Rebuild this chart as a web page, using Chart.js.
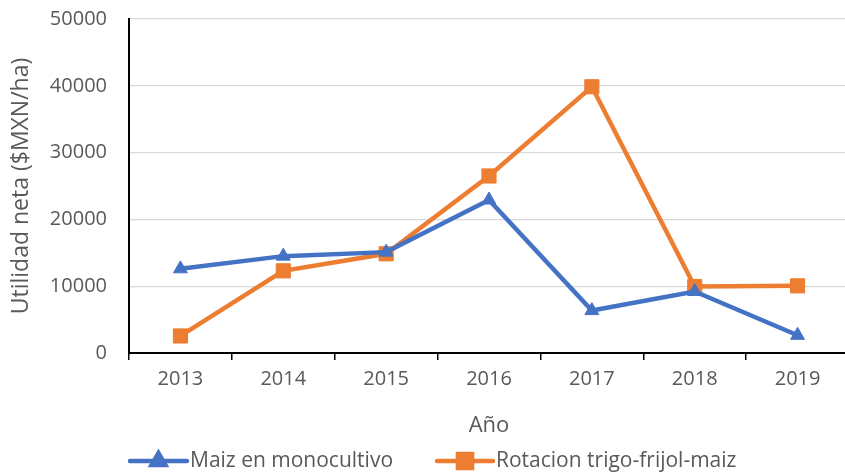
<!DOCTYPE html>
<html>
<head>
<meta charset="utf-8">
<script src="https://cdn.jsdelivr.net/npm/chart.js@4/dist/chart.umd.min.js"></script>
<style>
  html, body { margin: 0; padding: 0; background: #fff; overflow: hidden; }
  #wrap { width: 860px; height: 473px; }
</style>
</head>
<body>
<div id="wrap"><canvas id="chart" width="860" height="473"></canvas></div>
<script>
const years = ['2013', '2014', '2015', '2016', '2017', '2018', '2019'];
const maizValues = [12600, 14500, 15100, 22900, 6350, 9200, 2650];
const rotacionValues = [2550, 12300, 14850, 26500, 39850, 9950, 10050];
const seriesNames = ['Maiz en monocultivo', 'Rotacion trigo-frijol-maiz'];

const BLUE = '#4472C4';
const ORANGE = '#ED7D31';
const TEXT = '#595959';
const FONT = "'Open Sans', 'Liberation Sans', sans-serif";

// legend drawn as line + marker like the office style
const lineLegend = {
  id: 'lineLegend',
  afterDraw(chart) {
    const ctx = chart.ctx;
    const y = 461;
    const items = [
      { x0: 130, x1: 187, ds: chart.data.datasets[0] },
      { x0: 437, x1: 493, ds: chart.data.datasets[1] },
    ];
    ctx.save();
    items.forEach((it) => {
      ctx.strokeStyle = it.ds.borderColor;
      ctx.lineWidth = 4.5;
      ctx.lineCap = 'round';
      ctx.beginPath();
      ctx.moveTo(it.x0, y);
      ctx.lineTo(it.x1, y);
      ctx.stroke();
      Chart.helpers.drawPoint(ctx, {
        pointStyle: it.ds.pointStyle,
        radius: it.ds.pointRadius,
        borderWidth: 1,
      }, (it.x0 + it.x1) / 2, y);
      ctx.fillStyle = it.ds.borderColor;
      ctx.fill();
      ctx.fillStyle = TEXT;
      ctx.font = '21px ' + FONT;
      ctx.textBaseline = 'middle';
      ctx.textAlign = 'left';
      ctx.fillText(it.ds.label, it.x1 + 3, y);
    });
    ctx.restore();
  },
};

new Chart(document.getElementById('chart'), {
  type: 'line',
  data: {
    labels: years,
    datasets: [
      {
        label: seriesNames[0],
        data: maizValues,
        borderColor: BLUE,
        backgroundColor: BLUE,
        borderWidth: 4.5,
        pointStyle: 'triangle',
        pointRadius: 8,
        pointBorderWidth: 1,
        tension: 0,
      },
      {
        label: seriesNames[1],
        data: rotacionValues,
        borderColor: ORANGE,
        backgroundColor: ORANGE,
        borderWidth: 4.5,
        pointStyle: 'rect',
        pointRadius: 10,
        pointBorderWidth: 1,
        tension: 0,
      },
    ],
  },
  plugins: [lineLegend],
  options: {
    responsive: false,
    animation: false,
    layout: { padding: { top: 19, right: 8, left: 0, bottom: 0 } },
    plugins: {
      legend: { display: false },
      tooltip: { enabled: false },
    },
    scales: {
      x: {
        offset: true,
        grid: {
          offset: true,
          drawOnChartArea: false,
          drawTicks: true,
          tickLength: 7,
          color: '#000',
          lineWidth: 1.5,
        },
        border: { color: '#000', width: 2 },
        ticks: { color: TEXT, font: { family: FONT, size: 20 }, padding: 7, maxRotation: 0 },
        title: {
          display: true,
          text: 'Año',
          color: TEXT,
          font: { family: FONT, size: 22 },
          padding: { top: 0, bottom: 34 },
        },
        afterFit(scale) { scale.height = 120; },
      },
      y: {
        min: 0,
        max: 50000,
        ticks: {
          stepSize: 10000,
          color: TEXT,
          font: { family: FONT, size: 20 },
          padding: 22,
          callback: (v) => String(v),
        },
        grid: { color: '#d9d9d9', lineWidth: 1.3, drawTicks: false },
        border: { color: '#000', width: 2 },
        title: {
          display: true,
          text: 'Utilidad neta ($MXN/ha)',
          color: TEXT,
          font: { family: FONT, size: 23 },
          padding: { top: 8, bottom: 0 },
        },
        afterFit(scale) {
          scale.width = 129;
          scale.paddingTop = 0;
          scale.paddingBottom = 0;
        },
      },
    },
  },
});
</script>
</body>
</html>
